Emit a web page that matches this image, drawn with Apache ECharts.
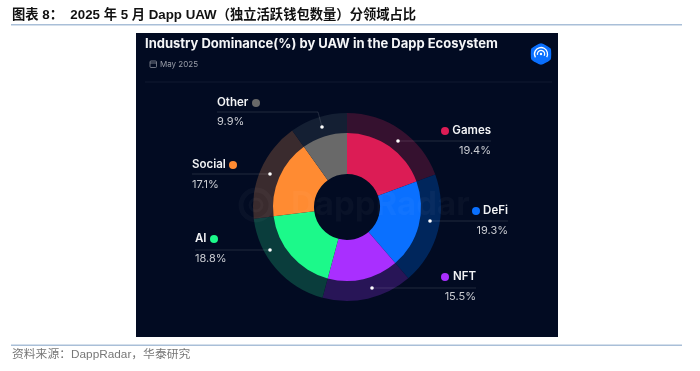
<!DOCTYPE html>
<html>
<head>
<meta charset="utf-8">
<style>
  html, body { margin: 0; padding: 0; background: #fff; }
  #chart { width: 700px; height: 371px; }
</style>
<script src="https://cdn.jsdelivr.net/npm/echarts@6/dist/echarts.min.js"></script>
</head>
<body>
<div id="chart"></div>
<script>
const categories = ['Games', 'DeFi', 'NFT', 'AI', 'Social', 'Other'];
const shares = [19.4, 19.3, 15.5, 18.8, 17.1, 9.9];
const innerColors = ['#dc1c55', '#0a70ff', '#a92fff', '#1cf98a', '#ff8b32', '#696969'];
const outerColors = ['#35112f', '#00265c', '#281557', '#0a3d3c', '#3a2b2e', '#141f33'];

const chartHeading = '图表 8：  2025 年 5 月 Dapp UAW（独立活跃钱包数量）分领域占比';
const panelTitle = 'Industry Dominance(%) by UAW in the Dapp Ecosystem';
const panelDate = 'May 2025';
const sourceNote = '资料来源：DappRadar，华泰研究';

// callout placement for each category: label anchor, dot on the ring, leader line
const callouts = [
  { align: 'right', x: 491, nameY: 131, valueY: 151, markX: 445, path: [[398, 141], [491, 141]] },
  { align: 'right', x: 508, nameY: 211, valueY: 231, markX: 476, path: [[430, 221], [508, 221]] },
  { align: 'right', x: 476, nameY: 277, valueY: 297, markX: 445, path: [[372, 288], [476, 288]] },
  { align: 'left', x: 195, nameY: 239, valueY: 259, markX: 214, path: [[270, 250], [195, 250]] },
  { align: 'left', x: 192, nameY: 165, valueY: 185, markX: 233, path: [[270, 174], [192, 174]] },
  { align: 'left', x: 217, nameY: 103, valueY: 122, markX: 256, path: [[322, 127], [318, 112], [217, 112]] }
];

const CX = 347, CY = 207;
const FONT = 'Inter, "Noto Sans", sans-serif';
const graphics = [];

// header rule, footer rule, dark panel
graphics.push(
  { type: 'rect', z: 0, shape: { x: 11, y: 24, width: 671, height: 1.5 }, style: { fill: '#a9bfd8' } },
  { type: 'rect', z: 0, shape: { x: 11, y: 344.5, width: 671, height: 1.5 }, style: { fill: '#a9bfd8' } },
  { type: 'rect', z: 0, shape: { x: 136, y: 33, width: 422, height: 304 }, style: { fill: '#020b22' } },
  { type: 'rect', z: 1, shape: { x: 145, y: 81.5, width: 407, height: 1 }, style: { fill: '#111a30' } }
);

// date line with small calendar icon
graphics.push(
  { type: 'rect', z: 5, shape: { x: 150, y: 61, width: 6.5, height: 6.5, r: 1 }, style: { fill: 'none', stroke: '#8b8f9b', lineWidth: 0.8 } },
  { type: 'line', z: 5, shape: { x1: 150, y1: 63, x2: 156.5, y2: 63 }, style: { stroke: '#8b8f9b', lineWidth: 0.8 } },
  { type: 'text', z: 5, style: { x: 160, y: 64.5, text: panelDate, fill: '#9a9ea9', font: '8px ' + FONT, textVerticalAlign: 'middle' } }
);

// logo badge
graphics.push(
  { type: 'polygon', z: 5, shape: { points: [[541, 44], [550, 49], [550, 59], [541, 64], [532, 59], [532, 49]], smooth: 0.15 }, style: { fill: '#0a70ff', stroke: '#0a70ff', lineWidth: 1.5, lineJoin: 'round' } },
  { type: 'arc', z: 6, shape: { cx: 541, cy: 54, r: 6.5, startAngle: 0.5, endAngle: 2.6, clockwise: false }, style: { fill: 'none', stroke: '#fff', lineWidth: 1.3 } },
  { type: 'arc', z: 6, shape: { cx: 541, cy: 54, r: 3.6, startAngle: 0.5, endAngle: 2.9, clockwise: false }, style: { fill: 'none', stroke: '#fff', lineWidth: 1.3 } },
  { type: 'circle', z: 6, shape: { cx: 541, cy: 54, r: 1.2 }, style: { fill: '#fff' } }
);

// faint watermark
graphics.push(
  { type: 'circle', z: 8, shape: { cx: 256, cy: 205, r: 15 }, style: { fill: 'none', stroke: 'rgba(255,255,255,0.03)', lineWidth: 5 } },
  { type: 'circle', z: 8, shape: { cx: 256, cy: 205, r: 6 }, style: { fill: 'none', stroke: 'rgba(255,255,255,0.03)', lineWidth: 3 } },
  { type: 'text', z: 8, style: { x: 291, y: 205, text: 'DappRadar', fill: 'rgba(255,255,255,0.03)', font: 'bold 33px ' + FONT, textVerticalAlign: 'middle' } }
);

// callouts
categories.forEach((name, i) => {
  const c = callouts[i];
  graphics.push(
    { type: 'polyline', z: 9, shape: { points: c.path }, style: { fill: 'none', stroke: 'rgba(255,255,255,0.16)', lineWidth: 0.8 } },
    { type: 'circle', z: 10, shape: { cx: c.path[0][0], cy: c.path[0][1], r: 1.8 }, style: { fill: '#fff' } },
    { type: 'circle', z: 10, shape: { cx: c.markX, cy: c.nameY, r: 4 }, style: { fill: innerColors[i] } },
    { type: 'text', z: 10, style: { x: c.x, y: c.nameY, text: name, fill: '#f2f3f5', font: '600 11.5px ' + FONT, textAlign: c.align, textVerticalAlign: 'middle' } },
    { type: 'text', z: 10, style: { x: c.x, y: c.valueY, text: shares[i] + '%', fill: '#c9cbd1', font: '11px ' + FONT, textAlign: c.align, textVerticalAlign: 'middle' } }
  );
});

const chart = echarts.init(document.getElementById('chart'));
chart.setOption({
  animation: false,
  backgroundColor: '#fff',
  title: [
    {
      text: chartHeading,
      left: 12, top: 9, padding: 0,
      textStyle: { color: '#111', fontSize: 13.3, fontWeight: 'bold', fontFamily: '"Liberation Sans", "Noto Sans CJK SC", sans-serif' }
    },
    {
      text: panelTitle,
      left: 145, top: 38, padding: 0,
      textStyle: { color: '#f4f5f7', fontSize: 13, fontWeight: 'bold', fontFamily: FONT }
    },
    {
      text: sourceNote,
      left: 12, top: 349, padding: 0,
      textStyle: { color: '#777', fontSize: 11.8, fontWeight: 'normal', fontFamily: '"Liberation Sans", "Noto Sans CJK SC", sans-serif' }
    }
  ],
  graphic: { elements: graphics },
  series: [
    {
      type: 'pie',
      silent: true,
      z: 2,
      center: [CX, CY],
      radius: [73, 94],
      startAngle: 90,
      clockwise: true,
      label: { show: false },
      labelLine: { show: false },
      data: categories.map((name, i) => ({ name, value: shares[i], itemStyle: { color: outerColors[i] } }))
    },
    {
      type: 'pie',
      silent: true,
      z: 3,
      center: [CX, CY],
      radius: [33, 74],
      startAngle: 90,
      clockwise: true,
      label: { show: false },
      labelLine: { show: false },
      data: categories.map((name, i) => ({ name, value: shares[i], itemStyle: { color: innerColors[i] } }))
    }
  ]
});
</script>
</body>
</html>
